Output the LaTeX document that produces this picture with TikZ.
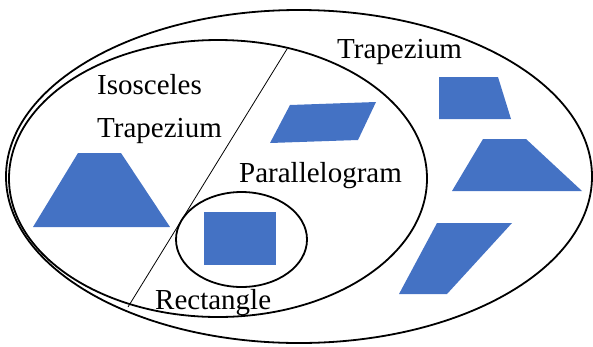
\documentclass[tikz,border=0pt]{standalone}
\usepackage{fontspec}
\setmainfont{Liberation Serif}
\definecolor{shapeblue}{HTML}{4472C4}
\begin{document}
\begin{tikzpicture}[x=1pt,y=-1pt,
  setline/.style={line width=1.8pt},
  blueshape/.style={fill=shapeblue,draw=none},
  lab/.style={anchor=base west,inner sep=0pt,font=\fontsize{29}{29}\selectfont}]
\useasboundingbox (0,0) rectangle (593,346);
% sets
\draw[setline] (299,176.5) ellipse [x radius=293, y radius=166.5];
\draw[setline] (218,178.5) ellipse [x radius=209, y radius=138.5];
\draw[setline] (241.5,239.5) ellipse [x radius=65.5, y radius=47.5];
\coordinate (dtop) at (287,49);
\coordinate (dbot) at (128,307);
\draw[line width=0.8pt] (dtop) -- (dbot);
% shapes
\fill[blueshape] (78,153) -- (121,153) -- (170,227) -- (33,227) -- cycle;
\fill[blueshape] (290,105) -- (376,102) -- (358,140) -- (270,143) -- cycle;
\fill[blueshape] (204,212) rectangle (276,265);
\fill[blueshape] (439,77) -- (498,77) -- (511,119) -- (439,119) -- cycle;
\fill[blueshape] (483,139) -- (526,139) -- (582,191) -- (452,191) -- cycle;
\fill[blueshape] (437,223) -- (512,223) -- (447,294) -- (399,294) -- cycle;
% labels
\node[lab] (iso) at (97,94) {Isosceles};
\node[lab] (isotrap) at (97,137) {Trapezium};
\node[lab] (para) at (239,182) {Parallelogram};
\node[lab] (rect) at (155,309) {Rectangle};
\node[lab] (trap) at (337,58) {Trapezium};
\end{tikzpicture}
\end{document}
